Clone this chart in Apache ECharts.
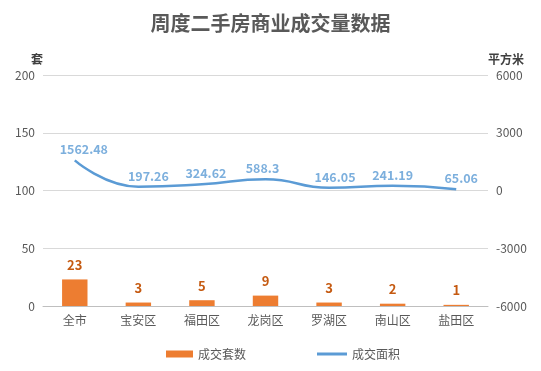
<!DOCTYPE html>
<html><head><meta charset="utf-8">
<script src="https://cdn.jsdelivr.net/npm/echarts@6/dist/echarts.min.js"></script>
<style>html,body{margin:0;padding:0;background:#fff}#c{width:541px;height:371px}</style>
</head><body><div id="c"></div>
<script>
const categories = ['全市','宝安区','福田区','龙岗区','罗湖区','南山区','盐田区'];
const units = [23,3,5,9,3,2,1];
const areas = [1562.48,197.26,324.62,588.3,146.05,241.19,65.06];
const leftTicks = [0,50,100,150,200];
const rightTicks = [-6000,-3000,0,3000,6000];

// label nudges (style only)
const labelShift = [9,10,4,-3,6,0,5];

const font = '"Microsoft YaHei","Noto Sans CJK SC",sans-serif';
const chart = echarts.init(document.getElementById('c'));
chart.setOption({
  animation:false,
  textStyle:{fontFamily:font},
  title:{text:'周度二手房商业成交量数据',left:'center',top:8,
    textStyle:{fontSize:20,fontWeight:'bold',color:'#595959',fontFamily:font}},
  legend:[
    {bottom:6,left:161,itemWidth:27,itemHeight:7,
     textStyle:{color:'#595959',fontSize:12,fontFamily:font},
     data:[{name:'成交套数',icon:'rect'}]},
    {bottom:6,left:312,itemWidth:30,itemHeight:3,
     textStyle:{color:'#595959',fontSize:12,fontFamily:font},
     data:[{name:'成交面积',icon:'rect'}]}
  ],
  grid:{left:43,right:53,top:75,bottom:65},
  xAxis:{type:'category',data:categories,
    axisLine:{lineStyle:{color:'#bfbfbf'}},axisTick:{show:false},
    axisLabel:{color:'#595959',fontSize:12,margin:8}},
  yAxis:[
    {type:'value',min:leftTicks[0],max:leftTicks[leftTicks.length-1],interval:50,
     name:'套',nameLocation:'end',nameGap:10,
     nameTextStyle:{color:'#404040',fontWeight:'bold',fontSize:12,align:'right'},
     axisLabel:{color:'#595959',fontSize:12},
     splitLine:{lineStyle:{color:'#d9d9d9'}},axisLine:{show:false},axisTick:{show:false}},
    {type:'value',min:rightTicks[0],max:rightTicks[rightTicks.length-1],interval:3000,
     name:'平方米',nameLocation:'end',nameGap:10,
     nameTextStyle:{color:'#404040',fontWeight:'bold',fontSize:12,align:'left'},
     axisLabel:{color:'#595959',fontSize:12,formatter:v=>String(v)},
     splitLine:{show:false},axisLine:{show:false},axisTick:{show:false}}
  ],
  series:[
    {name:'成交套数',type:'bar',data:units,barWidth:'40%',yAxisIndex:0,
     itemStyle:{color:'#ed7d31'},
     label:{show:true,position:'top',distance:8,color:'#c55a11',fontWeight:'bold',fontSize:13}},
    {name:'成交面积',type:'line',data:areas,yAxisIndex:1,smooth:0.5,
     symbol:'none',lineStyle:{color:'#5b9bd5',width:2.5},itemStyle:{color:'#5b9bd5'}},
    {name:'成交面积标签',type:'scatter',yAxisIndex:1,symbolSize:1,
     data:areas.map((v,i)=>({value:v,label:{offset:[labelShift[i],0]}})),
     itemStyle:{color:'rgba(0,0,0,0)'},silent:true,
     label:{show:true,position:'top',distance:4,color:'#5b9bd5',fontWeight:'bold',fontSize:12.5}}
  ]
});
</script></body></html>
